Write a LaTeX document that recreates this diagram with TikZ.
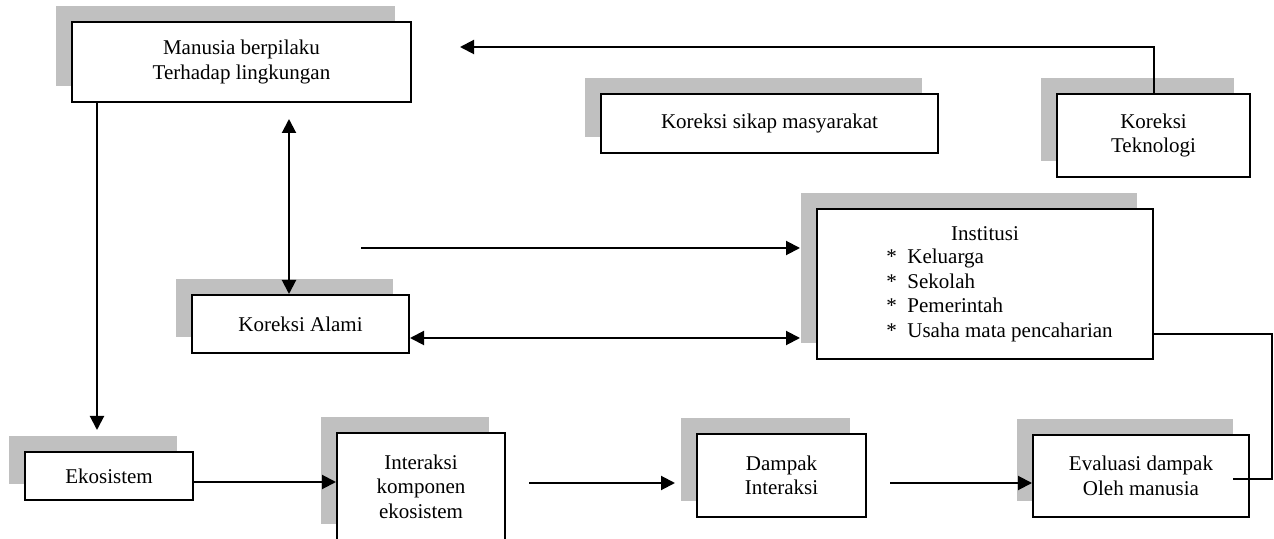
\documentclass[tikz,border=0pt]{standalone}
\usepackage{fontspec}
\setmainfont{Liberation Serif}
\usetikzlibrary{arrows.meta,shadows}
\definecolor{shadegray}{HTML}{C0C0C0}
\begin{document}
\begin{tikzpicture}[x=0.5pt,y=-0.5pt,
  font=\fontsize{10.5}{12.2}\selectfont,
  mybox/.style={draw=black,line width=1pt,fill=white,inner sep=0pt,align=center,
     general shadow={fill=shadegray,shadow xshift=-8pt,shadow yshift=8pt}},
  arr/.style={line width=1pt,-{Triangle[length=7pt,width=7pt]}},
  darr/.style={line width=1pt,{Triangle[length=7pt,width=7pt]}-{Triangle[length=7pt,width=7pt]}},
  thinline/.style={line width=0.7pt}]
\useasboundingbox (0,0) rectangle (1274,539);

% boxes
\node[mybox,minimum width=169.5pt,minimum height=40pt] (manusia) at (241.5,62) {Manusia berpilaku\\Terhadap lingkungan};
\node[mybox,minimum width=168.5pt,minimum height=29.5pt] (sikap) at (769.5,123.5) {Koreksi sikap masyarakat};
\node[mybox,minimum width=96.5pt,minimum height=41.5pt] (tekno) at (1153.5,135.5) {Koreksi\\Teknologi};
\node[mybox,minimum width=168pt,minimum height=75pt] (inst) at (985,284) {};
\node[mybox,minimum width=108.5pt,minimum height=29pt] (alami) at (300.5,324) {Koreksi Alami};
\node[mybox,minimum width=84pt,minimum height=24pt] (eko) at (109,476) {Ekosistem};
\node[mybox,minimum width=84pt,minimum height=53pt] (inter) at (421,486.5) {Interaksi\\komponen\\ekosistem};
\node[mybox,minimum width=84.5pt,minimum height=41.5pt] (dampak) at (781.5,475.5) {Dampak\\Interaksi};
\node[mybox,minimum width=108pt,minimum height=41pt] (eval) at (1141,476) {Evaluasi dampak\\Oleh manusia};

% Institusi text
\node (insttitle) at (985,234) {Institusi};
\node[anchor=north west,align=left,inner sep=0pt] (instlist) at (886,249)
  {*~~Keluarga\\*~~Sekolah\\*~~Pemerintah\\*~~Usaha mata pencaharian};

% coordinates
\coordinate (topend) at (460,47);
\coordinate (ekoin) at (97,430);
\coordinate (dvtop) at (289,119);
\coordinate (h1s) at (361,248);
\coordinate (h1e) at (800,248);
\coordinate (h2e) at (800,338);
\coordinate (yb) at (0,482);
\coordinate (a2s) at (529,483);
\coordinate (a2e) at (675,483);
\coordinate (a3s) at (890,483);
\coordinate (e1) at (1272,334);
\coordinate (e2) at (1272,479);
\coordinate (e3) at (1233,479);

% connectors
\draw[arr] (tekno.north) |- (topend);
\draw[arr] (manusia.south -| ekoin) -- (ekoin);
\draw[darr] (dvtop) -- (dvtop |- alami.north);
\draw[arr] (h1s) -- (h1e);
\draw[darr] (h2e -| alami.east) -- (h2e);
\draw[arr] (eko.east |- yb) -- (inter.west |- yb);
\draw[arr] (a2s) -- (a2e);
\draw[arr] (a3s) -- (eval.west |- a3s);
\draw[thinline] (inst.east |- e1) -- (e1) -- (e2) -- (e3);
\end{tikzpicture}
\end{document}
